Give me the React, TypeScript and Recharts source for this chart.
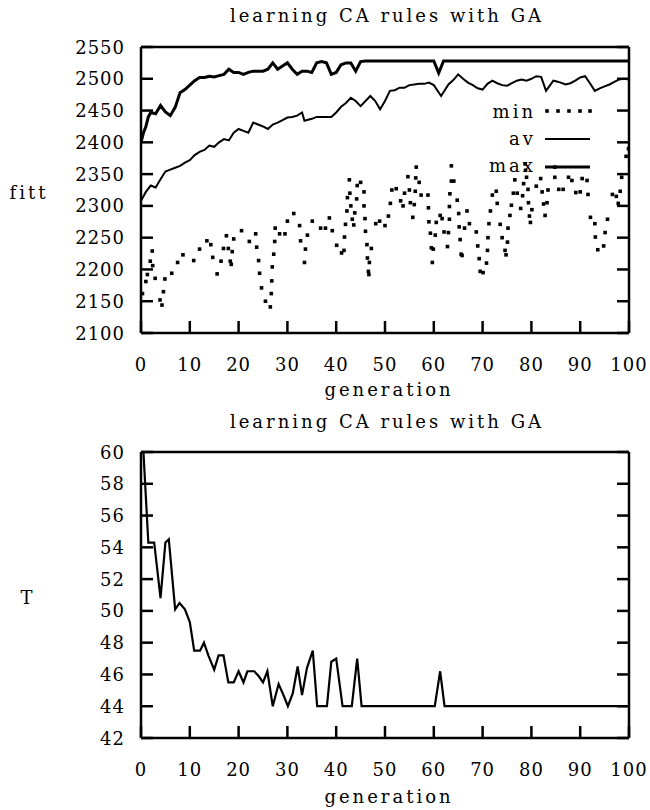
import React from 'react'
import { ComposedChart, Line, Scatter, XAxis, YAxis } from 'recharts'

// generations on the x axis, shared by both panels
const generationTicks = [0, 10, 20, 30, 40, 50, 60, 70, 80, 90, 100]
const fitTicks = [2100, 2150, 2200, 2250, 2300, 2350, 2400, 2450, 2500, 2550]
const tempTicks = [42, 44, 46, 48, 50, 52, 54, 56, 58, 60]

// [generation, fitness]
const maxFit = [
  [0, 2400], [0.5, 2415], [1, 2425], [1.5, 2440], [2, 2447], [3, 2445], [4, 2458], [5, 2448],
  [6, 2442], [7, 2455], [8, 2478], [9, 2483], [10, 2490], [11, 2497], [12, 2502], [13, 2502],
  [14, 2504], [15, 2503], [16, 2505], [17, 2507], [18, 2515], [19, 2510], [20, 2510], [21, 2507],
  [22, 2510], [23, 2512], [24, 2512], [25, 2512], [26, 2515], [27, 2525], [28, 2515], [29, 2520],
  [30, 2525], [31, 2515], [32, 2507], [33, 2512], [34, 2512], [35, 2510], [36, 2525], [37, 2527],
  [38, 2525], [39, 2507], [40, 2510], [41, 2522], [42, 2525], [43, 2525], [44, 2512], [45, 2527],
  [46, 2528], [60, 2528], [61, 2509], [62, 2528], [100, 2528],
]

const avFit = [
  [0, 2308], [1, 2322], [2, 2332], [3, 2329], [4, 2342], [5, 2354], [6, 2357], [7, 2360],
  [8, 2363], [9, 2368], [10, 2372], [11, 2380], [12, 2385], [13, 2388], [14, 2395], [15, 2393],
  [16, 2400], [17, 2405], [18, 2403], [19, 2415], [20, 2421], [21, 2418], [22, 2415], [23, 2431],
  [24, 2428], [25, 2425], [26, 2421], [27, 2428], [28, 2431], [29, 2435], [30, 2439], [31, 2440],
  [32, 2442], [33, 2447], [33.5, 2434], [35, 2437], [36, 2440], [37, 2440], [38, 2440], [39, 2440],
  [40, 2447], [41, 2456], [42, 2462], [43, 2470], [44, 2465], [45, 2457], [46, 2465], [47, 2473],
  [48, 2465], [49, 2452], [50, 2465], [51, 2481], [52, 2482], [53, 2486], [54, 2486], [55, 2490],
  [56, 2491], [57, 2492], [58, 2492], [59, 2494], [60, 2490], [61.5, 2473], [63, 2491], [64, 2498],
  [65, 2507], [66, 2500], [67, 2494], [68, 2490], [69, 2485], [70, 2483], [71, 2492], [72, 2497],
  [73, 2493], [74, 2490], [75, 2489], [76, 2493], [77, 2497], [78, 2499], [79, 2497], [80, 2500],
  [81, 2504], [82, 2503], [83, 2481], [84.5, 2497], [85, 2496], [86, 2494], [87, 2491], [88, 2493],
  [89, 2497], [90, 2502], [91, 2504], [92, 2493], [93, 2481], [94, 2485], [95, 2488], [96, 2491],
  [97, 2495], [98, 2499], [99, 2500], [100, 2499],
]

const minFit = [
  [0.3, 2162], [1, 2181], [1.3, 2192], [1.9, 2213], [2.3, 2229], [2.4, 2206], [2.9, 2186], [3.9, 2152],
  [4.3, 2144], [4.6, 2165], [4.9, 2185], [6.3, 2194], [7.5, 2211], [8.6, 2223], [10.8, 2214], [12, 2232],
  [13.5, 2245], [14.3, 2239], [14.7, 2219], [15.6, 2193], [16.4, 2213], [16.9, 2233], [17.5, 2253], [17.9, 2233],
  [18.3, 2213], [18.5, 2208], [18.7, 2228], [19, 2248], [20.6, 2261], [22.2, 2244], [23.5, 2256], [23.7, 2235],
  [24.1, 2214], [24.3, 2194], [24.7, 2171], [25.5, 2150], [26.5, 2141], [26.7, 2162], [26.8, 2182], [26.9, 2204],
  [27.2, 2224], [27.4, 2244], [27.5, 2265], [28.4, 2256], [29.5, 2256], [30, 2276], [31.3, 2288], [32.5, 2269],
  [32.7, 2245], [33.5, 2211], [33.7, 2232], [34.1, 2254], [35.1, 2276], [36.8, 2265], [37.8, 2265], [38.6, 2281],
  [39.2, 2261], [40.1, 2238], [41.1, 2226], [41.6, 2230], [41.7, 2251], [41.9, 2271], [42.2, 2292], [42.3, 2313],
  [42.7, 2341], [42.8, 2320], [43, 2300], [43.3, 2279], [43.6, 2270], [43.8, 2289], [44.2, 2311], [44.3, 2332],
  [45, 2337], [45.7, 2322], [45.7, 2300], [45.9, 2280], [46, 2260], [46.3, 2239], [46.4, 2218], [46.8, 2211],
  [46.6, 2197], [46.7, 2192], [47.2, 2233], [48.1, 2272], [48.9, 2276],
  [50, 2269], [50.7, 2284], [51.1, 2304], [51.4, 2325], [52.3, 2327], [53.2, 2308], [53.7, 2300], [54, 2320],
  [54.7, 2346], [55, 2325], [55.2, 2305], [55.7, 2282], [56, 2302], [56.2, 2323], [56.4, 2361], [56.3, 2344],
  [57, 2337], [57.4, 2317], [58.8, 2317], [58.9, 2297], [59, 2275], [59.3, 2257], [59.5, 2234], [59.7, 2211],
  [59.9, 2232], [60.3, 2254], [60.5, 2274], [61.3, 2285], [61.7, 2280], [62.1, 2259], [62.8, 2236], [63, 2258],
  [63.2, 2279], [63.2, 2299], [63.3, 2319], [63.6, 2339], [63.6, 2363], [64.1, 2339], [64.8, 2309], [65.1, 2288],
  [65.2, 2267], [65.4, 2247], [65.6, 2224], [65.8, 2222], [66.3, 2265], [66.8, 2292], [67.3, 2272], [68.7, 2259],
  [69, 2237], [69.3, 2217], [69.5, 2197], [70.1, 2195], [70.8, 2210], [71, 2230], [71.1, 2250], [71.3, 2272],
  [71.6, 2292], [72, 2317], [72.8, 2323], [73, 2304], [73.6, 2271], [74, 2250], [74.6, 2230], [74.8, 2223],
  [75.1, 2243], [75.2, 2265], [75.6, 2285], [75.9, 2301], [76.3, 2320], [76.6, 2341], [77.1, 2320], [77.8, 2296],
  [78.2, 2316], [78.4, 2335], [78.7, 2366], [78.8, 2356], [79, 2345], [79.3, 2326], [79.4, 2305], [79.6, 2284],
  [79.8, 2274], [80.1, 2294], [81, 2331], [81.9, 2343], [82.2, 2322], [82.5, 2303], [82.8, 2285], [83.2, 2305],
  [83.4, 2325], [84.8, 2345], [84.8, 2361], [85.6, 2326], [86.5, 2326], [87.6, 2345], [88.3, 2340], [89.1, 2321],
  [90, 2322], [90.4, 2343], [91.4, 2340], [91.6, 2318], [92.1, 2282], [93, 2272], [93.1, 2251], [93.6, 2231],
  [94.8, 2237], [95.1, 2258], [95.6, 2279], [96.6, 2318], [97.4, 2315], [97.8, 2304], [98.2, 2323], [98.5, 2345],
  [99.4, 2378], [99.9, 2390],
]

// [generation, T]
const temperature = [
  [0.5, 60], [1.5, 54.3], [2.7, 54.3], [4, 50.8], [5, 54.3], [5.7, 54.5], [7, 50.1], [7.9, 50.5],
  [9, 50.1], [10, 49.3], [10.9, 47.5], [12.1, 47.5], [12.9, 48], [13.8, 47.2], [15, 46.3], [15.9, 47.2],
  [16.9, 47.2], [17.9, 45.5], [19, 45.5], [20, 46.2], [21, 45.5], [21.8, 46.2], [23.2, 46.2], [24.1, 45.9],
  [25, 45.5], [25.9, 46.2], [27, 44], [28.2, 45.4], [29.2, 44.7], [30.1, 44], [31.1, 44.8], [32.1, 46.5],
  [33, 44.7], [34, 46.4], [35.2, 47.5], [36.1, 44], [38.1, 44], [39, 46.8], [40, 47], [41.3, 44],
  [43.2, 44], [44.3, 47], [45.2, 44], [60.2, 44], [61.3, 46.2], [62.2, 44], [100, 44],
]

const toPoints = (rows: number[][]) => rows.map(([x, y]) => ({ x, y }))

const FONT = 'DejaVu Serif'
const TICK_LEN = 12
const frame = { stroke: '#000', strokeWidth: 2.5 }

// gnuplot style: ticks point into the plot, labels sit outside
const BottomTick = ({ x, y, payload }: any) => (
  <g>
    <path d={`M${x},${y}V${y - TICK_LEN}`} stroke="#000" strokeWidth={2.5} fill="none" />
    <text x={x} y={y + 38} textAnchor="middle" fontFamily={FONT} fontSize={18} letterSpacing={1} fill="#000">
      {payload.value}
    </text>
  </g>
)

const LeftTick = ({ x, y, payload }: any) => (
  <g>
    <path d={`M${x},${y}H${x + TICK_LEN}`} stroke="#000" strokeWidth={2.5} fill="none" />
    <text x={x - 16} y={y + 6.5} textAnchor="end" fontFamily={FONT} fontSize={18} letterSpacing={1} fill="#000">
      {payload.value}
    </text>
  </g>
)

const TopTick = ({ x, y }: any) => (
  <path d={`M${x},${y}V${y + TICK_LEN}`} stroke="#000" strokeWidth={2.5} fill="none" />
)

const RightTick = ({ x, y }: any) => (
  <path d={`M${x},${y}H${x - TICK_LEN}`} stroke="#000" strokeWidth={2.5} fill="none" />
)

const Square = (props: any) => {
  const { cx, cy } = props
  if (cx == null || cy == null) return <g />
  return <rect x={cx - 1.8} y={cy - 1.8} width={3.6} height={3.6} fill="#000" />
}

function Panel({ yTicks, children }: { yTicks: number[]; children: React.ReactNode }) {
  const domain = [yTicks[0], yTicks[yTicks.length - 1]]
  return (
    <ComposedChart width={650} height={405} margin={{ top: 46, right: 20, left: 0, bottom: 0 }}>
      <XAxis
        type="number"
        dataKey="x"
        domain={[0, 100]}
        ticks={generationTicks}
        allowDataOverflow
        height={72}
        axisLine={frame}
        tickLine={false}
        tickSize={0}
        tickMargin={0}
        tick={<BottomTick />}
        interval={0}
      />
      <XAxis
        xAxisId="top"
        orientation="top"
        type="number"
        domain={[0, 100]}
        ticks={generationTicks}
        allowDataOverflow
        height={1}
        axisLine={frame}
        tickLine={false}
        tickSize={0}
        tickMargin={0}
        tick={<TopTick />}
        interval={0}
      />
      <YAxis
        type="number"
        dataKey="y"
        domain={domain}
        ticks={yTicks}
        allowDataOverflow
        width={141}
        axisLine={frame}
        tickLine={false}
        tickSize={0}
        tickMargin={0}
        tick={<LeftTick />}
        interval={0}
      />
      <YAxis
        yAxisId="right"
        orientation="right"
        type="number"
        domain={domain}
        ticks={yTicks}
        allowDataOverflow
        width={1}
        axisLine={frame}
        tickLine={false}
        tickSize={0}
        tickMargin={0}
        tick={<RightTick />}
        interval={0}
      />
      {children}
    </ComposedChart>
  )
}

const textBase: React.CSSProperties = {
  position: 'absolute',
  fontFamily: FONT,
  fontSize: 18,
  letterSpacing: 3,
  lineHeight: 1,
  whiteSpace: 'nowrap',
  color: '#000',
}

const Caption = ({ x, y, children, align = 'center' }: { x: number; y: number; children: React.ReactNode; align?: string }) => (
  <div
    style={{
      ...textBase,
      left: x,
      top: y,
      transform: align === 'right' ? 'translate(-100%, -50%)' : 'translate(-50%, -50%)',
    }}
  >
    {children}
  </div>
)

export default function App() {
  return (
    <div style={{ position: 'absolute', left: 0, top: 0, width: 650, height: 810, background: '#fff' }}>
      <div style={{ position: 'absolute', left: 0, top: 0 }}>
        <Panel yTicks={fitTicks}>
          <Scatter data={toPoints(minFit)} dataKey="y" shape={<Square />} isAnimationActive={false} />
          <Line data={toPoints(avFit)} dataKey="y" type="linear" stroke="#000" strokeWidth={2} dot={false} isAnimationActive={false} />
          <Line data={toPoints(maxFit)} dataKey="y" type="linear" stroke="#000" strokeWidth={3} dot={false} isAnimationActive={false} />
        </Panel>
      </div>
      <div style={{ position: 'absolute', left: 0, top: 405 }}>
        <Panel yTicks={tempTicks}>
          <Line data={toPoints(temperature)} dataKey="y" type="linear" stroke="#000" strokeWidth={2.2} dot={false} isAnimationActive={false} />
        </Panel>
      </div>

      <Caption x={387} y={16}>learning CA rules with GA</Caption>
      <Caption x={389} y={390}>generation</Caption>
      <Caption x={29} y={193}>fitt</Caption>
      <Caption x={387} y={422}>learning CA rules with GA</Caption>
      <Caption x={389} y={797}>generation</Caption>
      <Caption x={28} y={598}>T</Caption>

      {/* legend of the upper panel */}
      <Caption x={536} y={112} align="right">min</Caption>
      <Caption x={536} y={139} align="right">av</Caption>
      <Caption x={536} y={166} align="right">max</Caption>
      <svg style={{ position: 'absolute', left: 540, top: 100 }} width={60} height={80}>
        {[7, 18, 29, 40, 50].map((x) => (
          <rect key={x} x={x - 1.8} y={11 - 1.8} width={3.6} height={3.6} fill="#000" />
        ))}
        <line x1={5} y1={39} x2={50} y2={39} stroke="#000" strokeWidth={2} />
        <line x1={5} y1={67} x2={50} y2={67} stroke="#000" strokeWidth={3} />
      </svg>
    </div>
  )
}
